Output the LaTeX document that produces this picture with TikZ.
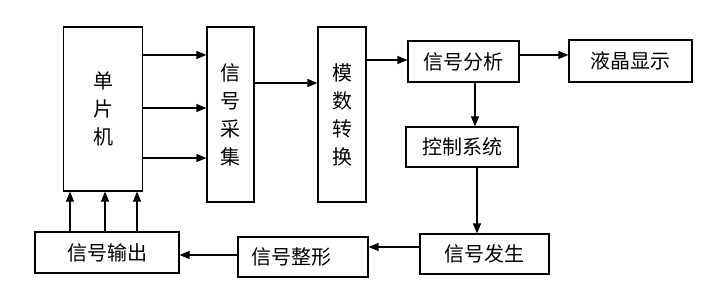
\documentclass[tikz,border=0pt]{standalone}
\usepackage{fontspec}
\setmainfont{Noto Sans CJK SC}
\usetikzlibrary{positioning,arrows.meta}

\begin{document}
\begin{tikzpicture}[x=1pt,y=-1pt,font=\fontsize{20}{28}\selectfont,
      blk/.style={draw,line width=1.2pt,inner sep=0pt,align=center},
      arr/.style={-{Triangle[length=10pt,width=8pt]},line width=1.2pt}]
    \useasboundingbox (0,0) rectangle (720,307);
    % tall boxes
    \node[blk,minimum width=79,minimum height=164] (mcu) at (103,109) {单\\片\\机};
    \node[blk,minimum width=47,minimum height=175] (acq) at (230.5,114.5) {信\\号\\采\\集};
    \node[blk,minimum width=48,minimum height=175] (adc) at (342,114.5) {模\\数\\转\\换};
    % flat boxes
    \node[blk,minimum width=111,minimum height=41] (ana) at (463.5,61.5) {信号分析};
    \node[blk,minimum width=123,minimum height=42] (lcd) at (630.5,61) {液晶显示};
    \node[blk,minimum width=112,minimum height=40] (ctrl) at (462,147) {控制系统};
    \node[blk,minimum width=129,minimum height=40] (gen) at (484.5,254) {信号发生};
    \node[blk,minimum width=130,minimum height=40] (shp) at (303,257) {\hspace*{-24pt}信号整形};
    \node[blk,minimum width=144,minimum height=41] (out) at (107,252.5) {信号输出};
    % connectors
    \foreach \y in {55,108,158}
      \draw[arr] (mcu.east |- 0,\y) -- (acq.west |- 0,\y);
    \draw[arr] (acq.east |- 0,83) -- (adc.west |- 0,83);
    \draw[arr] (adc.east |- 0,60) -- (ana.west |- 0,60);
    \draw[arr] (ana.east |- 0,55) -- (lcd.west |- 0,55);
    \draw[arr] (ana.south -| 475,0) -- (ctrl.north -| 475,0);
    \draw[arr] (ctrl.south -| 477,0) -- (gen.north -| 477,0);
    \draw[arr] (gen.west |- 0,247) -- (shp.east |- 0,247);
    \draw[arr] (shp.west |- 0,255) -- (out.east |- 0,255);
    \foreach \x in {70,105,137}
      \draw[arr] (out.north -| \x,0) -- (mcu.south -| \x,0);
  \end{tikzpicture}
\end{document}
